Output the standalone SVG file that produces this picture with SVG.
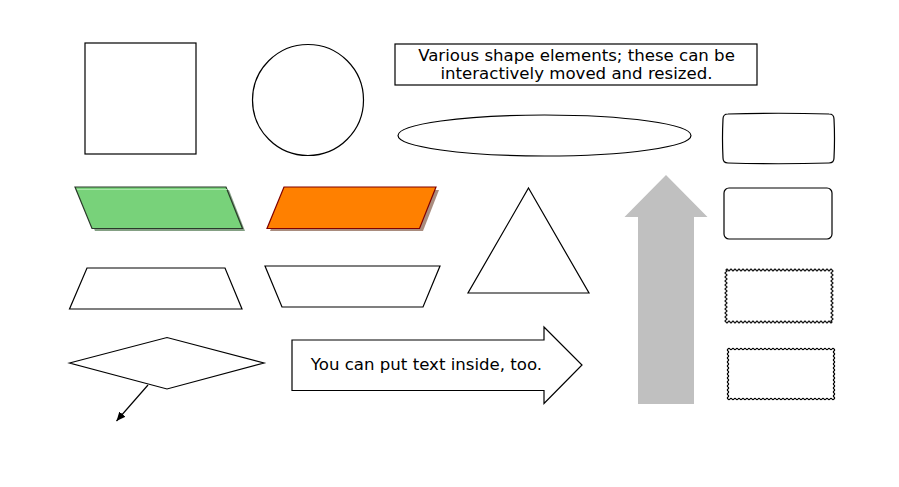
<svg xmlns="http://www.w3.org/2000/svg" width="899" height="487" viewBox="0 0 899 487">
<defs>
<style>
.s{fill:#fff;stroke:#000;stroke-width:1.2}
.t{font-family:"DejaVu Sans","Liberation Sans",sans-serif;font-size:16.6px;fill:#000;text-anchor:middle}
</style>
<marker id="ah" markerWidth="10" markerHeight="10" refX="9" refY="5" orient="auto" markerUnits="userSpaceOnUse">
<path d="M0,1 L9,5 L0,9 z" fill="#000"/>
</marker>
</defs>
<rect width="899" height="487" fill="#fff"/>
<g id="square"><rect class="s" x="85" y="43" width="111" height="111"/></g>
<g id="circle"><circle class="s" cx="308" cy="100" r="55.5"/></g>
<g id="textbox">
<rect class="s" x="395" y="44" width="362" height="41"/>
<text class="t" x="576.5" y="60.5">Various shape elements; these can be</text>
<text class="t" x="576.5" y="78.5">interactively moved and resized.</text>
</g>
<g id="ellipse"><ellipse class="s" cx="544.5" cy="135.5" rx="146.5" ry="20.5"/></g>
<g id="curvedrect"><path class="s" d="M728,114 Q778.5,112.5 829,114 Q834,114 834,119 Q835,138.5 834,158 Q834,163 829,163 Q778.5,164.5 728,163 Q723,163 723,158 Q722,138.5 723,119 Q723,114 728,114 Z"/></g>
<g id="roundrect"><rect class="s" x="724" y="188" width="108" height="51" rx="5"/></g>
<g id="wavyrect1"><path class="s" d="M726,270 q1,-2 2,0 t2,0 2,0 2,0 2,0 2,0 2,0 2,0 2,0 2,0 2,0 2,0 2,0 2,0 2,0 2,0 2,0 2,0 2,0 2,0 2,0 2,0 2,0 2,0 2,0 2,0 2,0 2,0 2,0 2,0 2,0 2,0 2,0 2,0 2,0 2,0 2,0 2,0 2,0 2,0 2,0 2,0 2,0 2,0 2,0 2,0 2,0 2,0 2,0 2,0 2,0 2,0 2,0 q2,1 0,2 t0,2 0,2 0,2 0,2 0,2 0,2 0,2 0,2 0,2 0,2 0,2 0,2 0,2 0,2 0,2 0,2 0,2 0,2 0,2 0,2 0,2 0,2 0,2 0,2 0,2 q-1,2 -2,0 t-2,0 -2,0 -2,0 -2,0 -2,0 -2,0 -2,0 -2,0 -2,0 -2,0 -2,0 -2,0 -2,0 -2,0 -2,0 -2,0 -2,0 -2,0 -2,0 -2,0 -2,0 -2,0 -2,0 -2,0 -2,0 -2,0 -2,0 -2,0 -2,0 -2,0 -2,0 -2,0 -2,0 -2,0 -2,0 -2,0 -2,0 -2,0 -2,0 -2,0 -2,0 -2,0 -2,0 -2,0 -2,0 -2,0 -2,0 -2,0 -2,0 -2,0 -2,0 -2,0 q-2,-1 0,-2 t0,-2 0,-2 0,-2 0,-2 0,-2 0,-2 0,-2 0,-2 0,-2 0,-2 0,-2 0,-2 0,-2 0,-2 0,-2 0,-2 0,-2 0,-2 0,-2 0,-2 0,-2 0,-2 0,-2 0,-2 0,-2 z"/></g>
<g id="wavyrect2"><path class="s" d="M728,349 q1,-1.3 2,0 t2,0 2,0 2,0 2,0 2,0 2,0 2,0 2,0 2,0 2,0 2,0 2,0 2,0 2,0 2,0 2,0 2,0 2,0 2,0 2,0 2,0 2,0 2,0 2,0 2,0 2,0 2,0 2,0 2,0 2,0 2,0 2,0 2,0 2,0 2,0 2,0 2,0 2,0 2,0 2,0 2,0 2,0 2,0 2,0 2,0 2,0 2,0 2,0 2,0 2,0 2,0 2,0 q1.3,1 0,2 t0,2 0,2 0,2 0,2 0,2 0,2 0,2 0,2 0,2 0,2 0,2 0,2 0,2 0,2 0,2 0,2 0,2 0,2 0,2 0,2 0,2 0,2 0,2 0,2 q-1,1.3 -2,0 t-2,0 -2,0 -2,0 -2,0 -2,0 -2,0 -2,0 -2,0 -2,0 -2,0 -2,0 -2,0 -2,0 -2,0 -2,0 -2,0 -2,0 -2,0 -2,0 -2,0 -2,0 -2,0 -2,0 -2,0 -2,0 -2,0 -2,0 -2,0 -2,0 -2,0 -2,0 -2,0 -2,0 -2,0 -2,0 -2,0 -2,0 -2,0 -2,0 -2,0 -2,0 -2,0 -2,0 -2,0 -2,0 -2,0 -2,0 -2,0 -2,0 -2,0 -2,0 -2,0 q-1.3,-1 0,-2 t0,-2 0,-2 0,-2 0,-2 0,-2 0,-2 0,-2 0,-2 0,-2 0,-2 0,-2 0,-2 0,-2 0,-2 0,-2 0,-2 0,-2 0,-2 0,-2 0,-2 0,-2 0,-2 0,-2 0,-2 z"/></g>
<g id="greenpara">
<polygon points="78,190 229,190 245,231 95,231" fill="#6f8f6f" opacity="0.85"/>
<polygon points="75,187 226,187 242.5,228.5 92,228.5" fill="#78d27a" stroke="#2a3a2a" stroke-width="1.2"/>
<line x1="77" y1="189.5" x2="227" y2="189.5" stroke="#a8e6a8" stroke-width="1"/>
</g>
<g id="orangepara">
<polygon points="287,190 439,190 423,231 270,231" fill="#a08070" opacity="0.9"/>
<polygon points="284,187 436,187 419.5,228.5 267,228.5" fill="#ff8000" stroke="#800000" stroke-width="1.2"/>
</g>
<g id="triangle"><polygon class="s" points="528.5,188 589,293 468,293"/></g>
<g id="trapezoid1"><polygon class="s" points="87,268 225,268 242,309 69.5,309"/></g>
<g id="trapezoid2"><polygon class="s" points="265,266 440,266 423,307 282,307"/></g>
<g id="diamond"><polygon class="s" points="69.5,363 167,337.5 264,363 167,389"/></g>
<g id="textarrow">
<polygon class="s" points="292,340 544,340 544,327 582,365 544,403.5 544,390.5 292,390.5"/>
<text class="t" x="426.5" y="369.5">You can put text inside, too.</text>
</g>
<g id="grayarrow"><polygon points="666,175 707.5,217 694,217 694,404 638,404 638,217 624.5,217" fill="#c0c0c0"/></g>
<g id="connectors">
<line x1="148" y1="385" x2="116.5" y2="421" stroke="#000" stroke-width="1.2" marker-end="url(#ah)"/>
</g>
</svg>
